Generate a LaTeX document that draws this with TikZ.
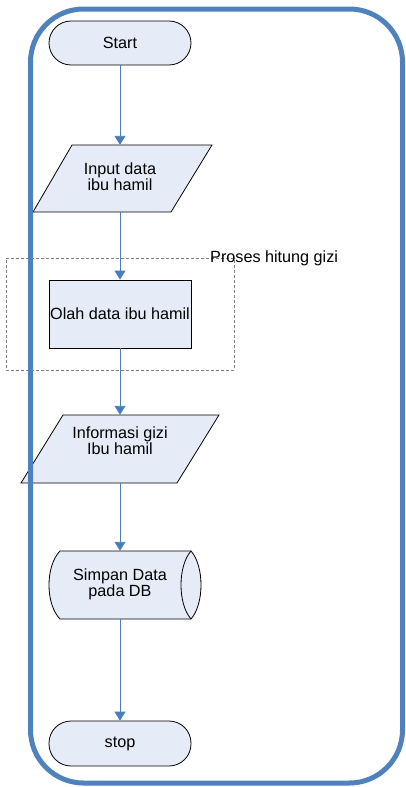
\documentclass[tikz,border=0pt]{standalone}
\usepackage{fontspec}
\setmainfont{Liberation Sans}
\usetikzlibrary{arrows.meta,backgrounds}
\definecolor{shapefill}{HTML}{E6ECF7}
\definecolor{frameblue}{HTML}{4F81BD}
\definecolor{arrowblue}{HTML}{4A7EBB}
\begin{document}
\begin{tikzpicture}[x=1pt,y=-1pt,
  every node/.style={font=\fontsize{16.2}{16}\selectfont},
  box/.style={draw=black, line width=0.8pt, fill=shapefill, inner sep=0pt},
  ghost/.style={inner sep=0pt},
  outline/.style={draw=black, line width=0.8pt, fill=shapefill},
  flow/.style={draw=arrowblue, line width=0.9pt, -{Triangle[width=11pt,length=9pt]}},
  grpbox/.style={draw=gray, line width=0.8pt, dash pattern=on 3pt off 2pt, inner sep=0pt},
  frame/.style={draw=frameblue, line width=5pt, rounded corners=53pt, inner sep=0pt}]
\useasboundingbox (0,0) rectangle (406,787);

% nodes
\node[box, rounded corners=22pt, minimum width=142pt, minimum height=44pt] (start) at (120,43) {Start};
\node[ghost, minimum width=179pt, minimum height=67pt,
      label={[align=center,xshift=-2.5pt,yshift=1.5pt]center:Input data\\ibu hamil}] (in) at (122.5,178.5) {};
\node[grpbox, minimum width=228pt, minimum height=112pt] (grp) at (120,314) {};
\node[anchor=base west, inner sep=0pt] (grplabel) at (210,262) {Proses hitung gizi};
\node[box, minimum width=142pt, minimum height=68pt] (olah) at (120,314) {Olah data ibu hamil};
\node[ghost, minimum width=198pt, minimum height=68pt,
      label={[align=center,yshift=8pt]center:Informasi gizi\\Ibu hamil}] (info) at (120,449) {};
\node[ghost, minimum width=152pt, minimum height=68pt,
      label={[align=center,xshift=-5pt,yshift=1pt]center:Simpan Data\\pada DB}] (simpan) at (125,585) {};
\node[box, rounded corners=22pt, minimum width=142pt, minimum height=45pt] (stop) at (120,743.5) {stop};

% shape outlines behind the texts
\begin{scope}[on background layer]
  \begin{scope}[shift={(in.center)}]
    \path[outline] (-89.5,33.5) -- (-50.5,-33.5) -- (89.5,-33.5) -- (48.5,33.5) -- cycle;
  \end{scope}
  \begin{scope}[shift={(info.center)}]
    \path[outline] (-99,34) -- (-57,-34) -- (99,-34) -- (57,34) -- cycle;
  \end{scope}
  \begin{scope}[shift={(simpan.center)}]
    \path[outline] (-65,-34) -- (66,-34) .. controls (79.33,-19) and (79.33,19) .. (66,34)
      -- (-65,34) .. controls (-79.67,19) and (-79.67,-19) .. (-65,-34) -- cycle;
    \draw[black, line width=0.8pt] (66,-34) .. controls (52.67,-19) and (52.67,19) .. (66,34);
  \end{scope}
\end{scope}

% connectors
\draw[flow] (start.south) -- (start.south |- in.north);
\draw[flow] (olah.north |- in.south) -- (olah.north);
\draw[flow] (olah.south) -- (olah.south |- info.north);
\draw[flow] (info.south) -- (info.south |- simpan.north);
\draw[flow] (stop.north |- simpan.south) -- (stop.north);

% outer frame
\node[frame, minimum width=372pt, minimum height=774pt] (border) at (216.5,396) {};
\end{tikzpicture}
\end{document}
